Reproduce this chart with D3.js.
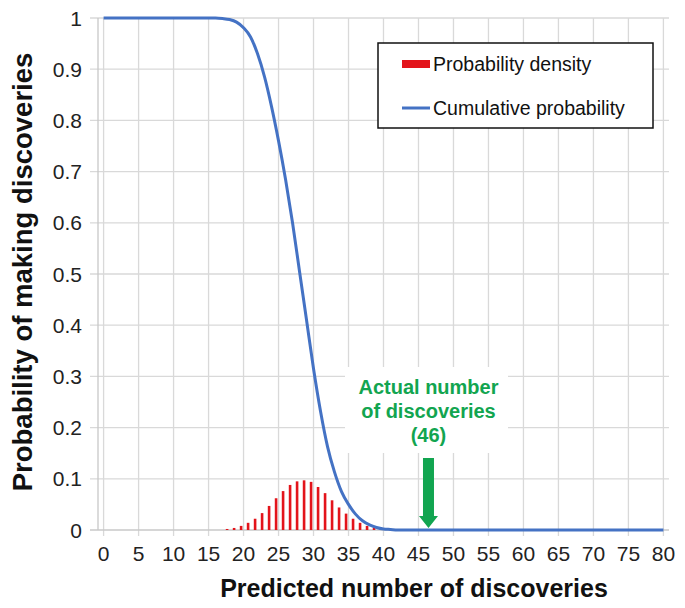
<!DOCTYPE html>
<html><head><meta charset="utf-8">
<script src="https://cdn.jsdelivr.net/npm/d3@7"></script>
<style>body{margin:0;background:#fff}svg{display:block}text{font-family:Arial,"Liberation Sans",sans-serif}</style>
</head><body>
<script>
// Data
const xTicks = d3.range(0, 81, 5);
const yTicks = [0,0.1,0.2,0.3,0.4,0.5,0.6,0.7,0.8,0.9,1];
const cumX = d3.range(0, 81);
const cumY = [1,1,1,1,1,1,1,1,1,1,1,1,1,1,1,1,1,0.999,0.997,0.992,0.981,0.963,0.93,0.885,0.827,0.76,0.685,0.6,0.505,0.41,0.315,0.232,0.163,0.113,0.075,0.05,0.031,0.018,0.01,0.005,0.002,0.001,
  0,0,0,0,0,0,0,0,0,0,0,0,0,0,0,0,0,0,0,0,0,0,0,0,0,0,0,0,0,0,0,0,0,0,0,0,0,0,0];
const densX = d3.range(17, 40);
const densY = [0.002,0.004,0.008,0.014,0.022,0.033,0.047,0.062,0.076,0.088,0.095,0.097,0.094,0.084,0.072,0.058,0.044,0.032,0.022,0.014,0.008,0.005,0.002];
const actualValue = 46;
const legendLabels = ["Probability density","Cumulative probability"];
const annotationLines = ["Actual number","of discoveries","(46)"];

const W = 685, H = 608;
const svg = d3.select("body").append("svg").attr("width", W).attr("height", H);
const x = d3.scaleLinear().domain([-0.8, 80.8]).range([98, 669]);
const y = d3.scaleLinear().domain([0, 1]).range([530, 18]);
const grid = "#d9d9d9";
const barShift = 0.65;

// gridlines
svg.append("g").selectAll("line").data(yTicks.filter(d=>d>0)).join("line")
  .attr("x1", 90).attr("x2", 669).attr("y1", d=>y(d)).attr("y2", d=>y(d))
  .attr("stroke", grid).attr("stroke-width", 1.3);
svg.append("g").selectAll("line").data(xTicks).join("line")
  .attr("x1", d=>x(d)).attr("x2", d=>x(d)).attr("y1", y(1)).attr("y2", y(0)+6)
  .attr("stroke", grid).attr("stroke-width", 1.3);
// axes lines
svg.append("line").attr("x1", 98).attr("x2", 98).attr("y1", y(1)).attr("y2", y(0)).attr("stroke", "#c8c8c8").attr("stroke-width", 1.3);
svg.append("line").attr("x1", 90).attr("x2", 669).attr("y1", y(0)).attr("y2", y(0)).attr("stroke", "#c8c8c8").attr("stroke-width", 1.3);

// tick labels
svg.append("g").selectAll("text").data(yTicks).join("text")
  .attr("x", 82).attr("y", d=>y(d)+7.5).attr("text-anchor","end")
  .attr("font-size", 21).attr("fill","#222").text(d=>d===0||d===1?String(d):d.toFixed(1));
svg.append("g").selectAll("text").data(xTicks).join("text")
  .attr("x", d=>x(d)).attr("y", 561).attr("text-anchor","middle")
  .attr("font-size", 21).attr("fill","#222").text(d=>d);

// axis titles
svg.append("text").attr("x", 414).attr("y", 597).attr("text-anchor","middle")
  .attr("font-size", 25).attr("font-weight","bold").attr("fill","#111").text("Predicted number of discoveries");
svg.append("text").attr("transform","translate(32,272) rotate(-90)").attr("text-anchor","middle")
  .attr("font-size", 27.5).attr("font-weight","bold").attr("fill","#111").text("Probability of making discoveries");

// density bars
svg.append("g").selectAll("rect").data(densX.map((d,i)=>[d,densY[i]])).join("rect")
  .attr("x", d=>x(d[0]+barShift)-1.3).attr("width", 2.6)
  .attr("y", d=>y(d[1])).attr("height", d=>y(0)-y(d[1]))
  .attr("fill", "#e3141b");

// cumulative line
const line = d3.line().x((d,i)=>x(cumX[i])).y(d=>y(d)).curve(d3.curveMonotoneX);
svg.append("path").attr("d", line(cumY)).attr("fill","none").attr("stroke","#4472c4").attr("stroke-width", 3);

// annotation
const green = "#12a550";
svg.append("rect").attr("x", 345).attr("y", 367).attr("width", 163).attr("height", 86).attr("fill","#fff");
const ax = x(actualValue) + 3;
svg.append("g").selectAll("text").data(annotationLines).join("text")
  .attr("x", ax).attr("y", (d,i)=>394 + i*24).attr("text-anchor","middle")
  .attr("font-size", 20).attr("font-weight","bold").attr("fill", green).text(d=>d);
svg.append("path")
  .attr("d", `M${ax-5.5},458 L${ax+5.5},458 L${ax+5.5},516 L${ax+9.5},516 L${ax},528 L${ax-9.5},516 L${ax-5.5},516 Z`)
  .attr("fill", green);

// legend
const lg = svg.append("g");
lg.append("rect").attr("x", 378).attr("y", 43).attr("width", 275).attr("height", 85)
  .attr("fill","#fff").attr("stroke","#111").attr("stroke-width", 1.5);
lg.append("rect").attr("x", 402).attr("y", 60).attr("width", 28).attr("height", 8).attr("fill","#e3141b");
lg.append("line").attr("x1", 402).attr("x2", 430).attr("y1", 108).attr("y2", 108).attr("stroke","#4472c4").attr("stroke-width", 3);
lg.selectAll("text.l").data(legendLabels).join("text").attr("class","l")
  .attr("x", 433).attr("y", (d,i)=>71 + i*44).attr("font-size", 19.5).attr("fill","#111").text(d=>d);
</script>
</body></html>
